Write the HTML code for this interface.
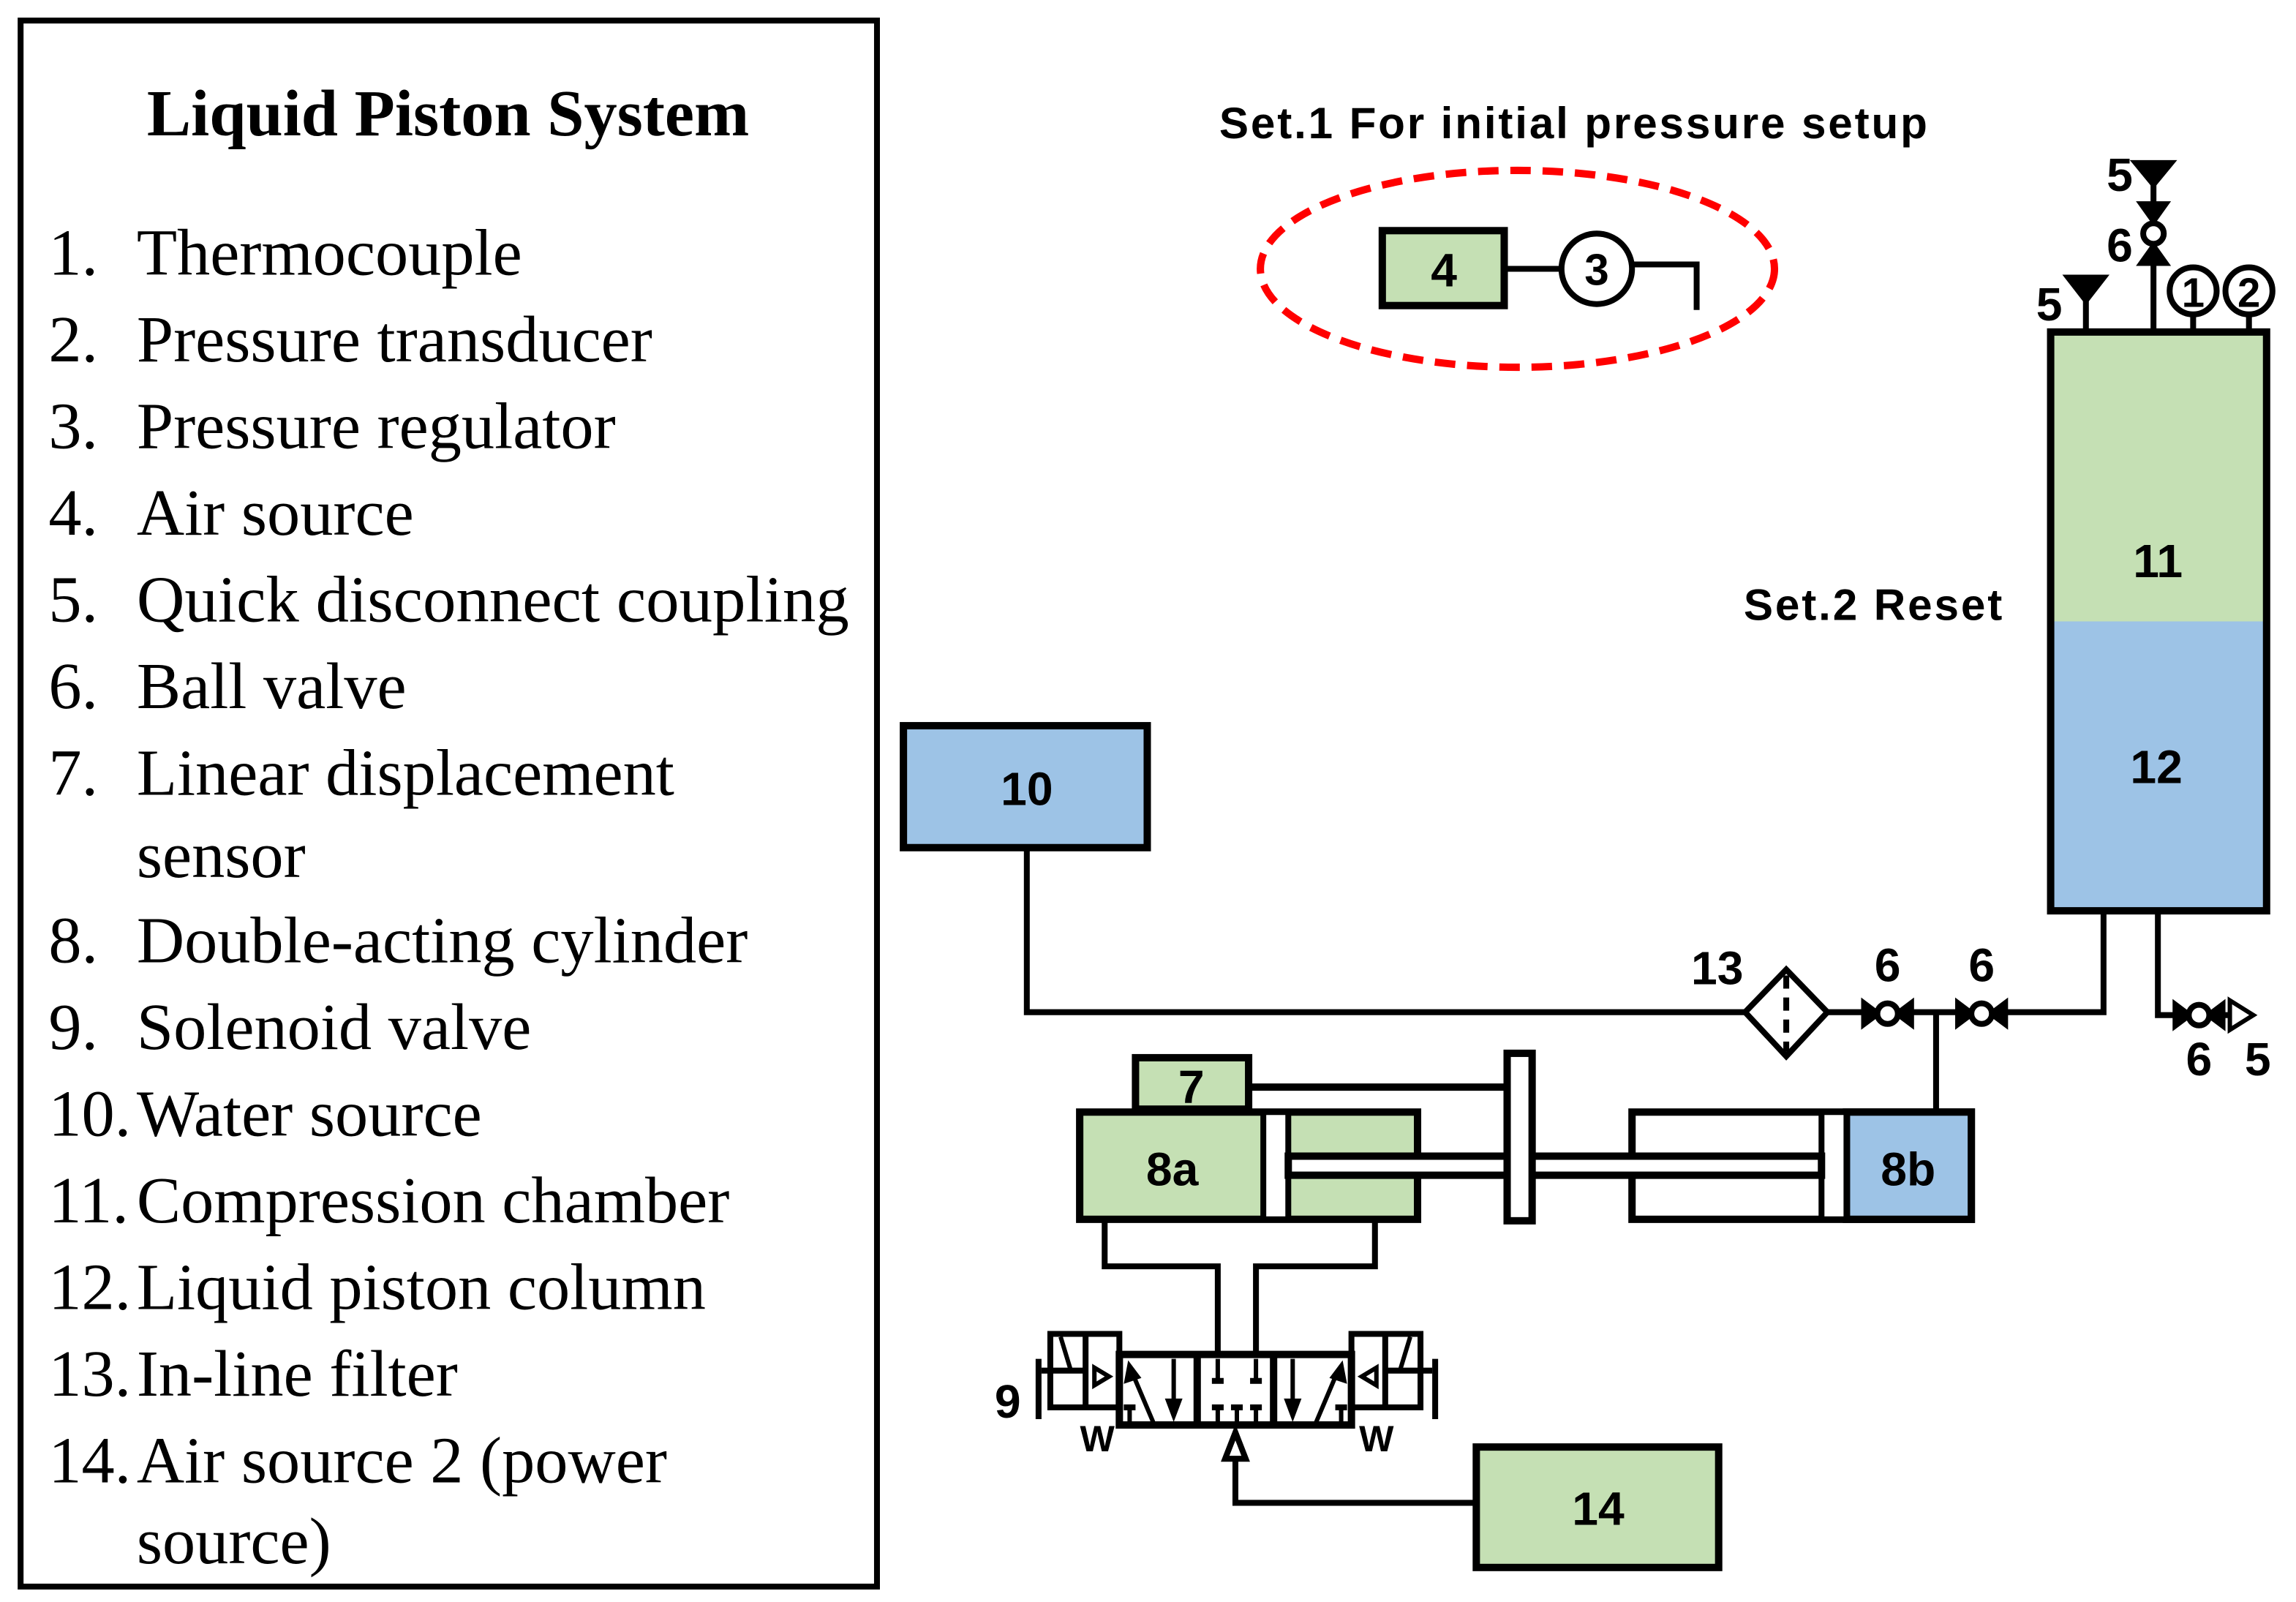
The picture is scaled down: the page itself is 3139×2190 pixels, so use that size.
<!DOCTYPE html>
<html><head><meta charset="utf-8"><style>
html,body{margin:0;padding:0;background:#fff;}
svg{display:block;}
.s{font-family:"Liberation Serif",serif;font-size:45px;fill:#000;}
.b{font-family:"Liberation Sans",sans-serif;font-weight:bold;fill:#000;}
</style></head><body>
<svg width="3139" height="2190" viewBox="0 0 1563 1090.5" xmlns="http://www.w3.org/2000/svg">
<rect x="0" y="0" width="1563" height="1091" fill="#fff"/>
<!-- legend -->
<rect x="14" y="14" width="583" height="1066" fill="none" stroke="#000" stroke-width="4"/>
<text x="305" y="92" text-anchor="middle" class="s" style="font-weight:bold;font-size:45px">Liquid Piston System</text>
<g class="s">
<text x="33" y="187">1.</text><text x="93" y="187">Thermocouple</text>
<text x="33" y="246">2.</text><text x="93" y="246">Pressure transducer</text>
<text x="33" y="305">3.</text><text x="93" y="305">Pressure regulator</text>
<text x="33" y="364">4.</text><text x="93" y="364">Air source</text>
<text x="33" y="423">5.</text><text x="93" y="423" textLength="485" lengthAdjust="spacingAndGlyphs">Quick disconnect coupling</text>
<text x="33" y="482">6.</text><text x="93" y="482">Ball valve</text>
<text x="33" y="541">7.</text><text x="93" y="541">Linear displacement</text>
<text x="93" y="597">sensor</text>
<text x="33" y="655">8.</text><text x="93" y="655">Double-acting cylinder</text>
<text x="33" y="714">9.</text><text x="93" y="714">Solenoid valve</text>
<text x="33" y="773">10.</text><text x="93" y="773">Water source</text>
<text x="33" y="832">11.</text><text x="93" y="832">Compression chamber</text>
<text x="33" y="891">12.</text><text x="93" y="891">Liquid piston column</text>
<text x="33" y="950">13.</text><text x="93" y="950">In-line filter</text>
<text x="33" y="1009">14.</text><text x="93" y="1009">Air source 2 (power</text>
<text x="93" y="1064">source)</text>
</g>
<!-- set 1 -->
<text x="830" y="94" class="b" font-size="30" textLength="482">Set.1 For initial pressure setup</text>
<ellipse cx="1033" cy="183" rx="175" ry="67" fill="none" stroke="#ff0000" stroke-width="5" stroke-dasharray="14 8"/>
<rect x="941" y="157" width="83" height="51" fill="#c5e0b4" stroke="#000" stroke-width="5"/>
<text x="983" y="195" text-anchor="middle" class="b" font-size="32">4</text>
<line x1="1024" y1="183" x2="1062" y2="183" stroke="#000" stroke-width="4"/>
<circle cx="1087" cy="183" r="24" fill="#fff" stroke="#000" stroke-width="4"/>
<text x="1087" y="194" text-anchor="middle" class="b" font-size="30">3</text>
<polyline points="1111,180 1155,180 1155,211" fill="none" stroke="#000" stroke-width="4"/>
<!-- set 2 -->
<text x="1187" y="422" class="b" font-size="30" textLength="176">Set.2 Reset</text>
<!-- tank -->
<rect x="1396" y="226" width="147" height="197" fill="#c5e0b4"/>
<rect x="1396" y="423" width="147" height="197" fill="#9dc3e6"/>
<rect x="1396" y="226" width="147" height="394" fill="none" stroke="#000" stroke-width="5"/>
<text x="1469" y="393" text-anchor="middle" class="b" font-size="32">11</text>
<text x="1468" y="533" text-anchor="middle" class="b" font-size="32">12</text>
<!-- tank top fittings -->
<g stroke="#000" stroke-width="4" fill="#000">
<line x1="1420" y1="226" x2="1420" y2="195"/>
<polygon points="1406,188 1434,188 1420,206" stroke-width="2"/>
<line x1="1466" y1="226" x2="1466" y2="110"/>
<polygon points="1452,110 1480,110 1466,127" stroke-width="2"/>
<polygon points="1456,138 1476,138 1466,152" stroke-width="2"/>
<polygon points="1456,180 1476,180 1466,166" stroke-width="2"/>
<circle cx="1466" cy="159" r="7" fill="#fff"/>
<line x1="1493" y1="226" x2="1493" y2="214"/>
<line x1="1531" y1="226" x2="1531" y2="214"/>
<circle cx="1493" cy="198" r="16" fill="#fff"/>
<circle cx="1531" cy="198" r="16" fill="#fff"/>
</g>
<text x="1493" y="209" text-anchor="middle" class="b" font-size="28">1</text>
<text x="1531" y="209" text-anchor="middle" class="b" font-size="28">2</text>
<text x="1443" y="130" text-anchor="middle" class="b" font-size="32">5</text>
<text x="1443" y="178" text-anchor="middle" class="b" font-size="32">6</text>
<text x="1395" y="218" text-anchor="middle" class="b" font-size="32">5</text>
<!-- box 10 -->
<rect x="615" y="494" width="166" height="83" fill="#9dc3e6" stroke="#000" stroke-width="5"/>
<text x="699" y="548" text-anchor="middle" class="b" font-size="32">10</text>
<!-- pipes -->
<g stroke="#000" stroke-width="4" fill="none">
<polyline points="699,577 699,689 1188,689"/>
<polyline points="1244,689 1432,689 1432,620"/>
<line x1="1318" y1="689" x2="1318" y2="756"/>
<polyline points="1469,620 1469,691 1520,691"/>
<polygon points="1216,660 1244,689 1216,719 1188,689" fill="#fff"/>
<line x1="1216" y1="664" x2="1216" y2="716" stroke-dasharray="9 6"/>
</g>
<!-- ball valves horizontal -->
<g stroke="#000" stroke-width="2" fill="#000">
<polygon points="1268,681 1268,699 1280,690"/><polygon points="1302,681 1302,699 1290,690"/>
<circle cx="1285" cy="690" r="7" fill="#fff" stroke-width="4"/>
<polygon points="1332,681 1332,699 1344,690"/><polygon points="1366,681 1366,699 1354,690"/>
<circle cx="1349" cy="690" r="7" fill="#fff" stroke-width="4"/>
<polygon points="1480,682 1480,700 1492,691"/><polygon points="1514,682 1514,700 1502,691"/>
<circle cx="1497" cy="691" r="7" fill="#fff" stroke-width="4"/>
<polygon points="1518,681 1518,701 1534,691" fill="#fff" stroke-width="3"/>
</g>
<text x="1169" y="670" text-anchor="middle" class="b" font-size="32">13</text>
<text x="1285" y="668" text-anchor="middle" class="b" font-size="32">6</text>
<text x="1349" y="668" text-anchor="middle" class="b" font-size="32">6</text>
<text x="1497" y="732" text-anchor="middle" class="b" font-size="32">6</text>
<text x="1537" y="732" text-anchor="middle" class="b" font-size="32">5</text>
<!-- cylinders -->
<rect x="773" y="720" width="77" height="35" fill="#c5e0b4" stroke="#000" stroke-width="5"/>
<text x="811" y="751" text-anchor="middle" class="b" font-size="32">7</text>
<line x1="850" y1="740" x2="1027" y2="740" stroke="#000" stroke-width="5"/>
<rect x="735" y="757" width="230" height="73" fill="#c5e0b4" stroke="#000" stroke-width="5"/>
<rect x="1111" y="757" width="231" height="73" fill="#fff" stroke="#000" stroke-width="5"/>
<rect x="1257" y="757" width="85" height="73" fill="#9dc3e6" stroke="#000" stroke-width="5"/>
<rect x="860" y="757" width="17" height="73" fill="#fff" stroke="#000" stroke-width="4"/>
<rect x="1240" y="757" width="17" height="73" fill="#fff" stroke="#000" stroke-width="4"/>
<rect x="877" y="787" width="363" height="13" fill="#fff" stroke="#000" stroke-width="5"/>
<rect x="1026" y="717" width="17" height="114" fill="#fff" stroke="#000" stroke-width="5"/>
<text x="798" y="807" text-anchor="middle" class="b" font-size="32">8a</text>
<text x="1299" y="807" text-anchor="middle" class="b" font-size="32">8b</text>
<!-- lines to valve -->
<g stroke="#000" stroke-width="4" fill="none">
<polyline points="752,830 752,862 829,862 829,923"/>
<polyline points="936,830 936,862 855,862 855,923"/>
<polyline points="1005,1023 841,1023 841,990"/>
</g>
<polygon points="841,975 834,993 848,993" fill="#fff" stroke="#000" stroke-width="4"/>
<!-- box 14 -->
<rect x="1005" y="985" width="165" height="82" fill="#c5e0b4" stroke="#000" stroke-width="5"/>
<text x="1088" y="1038" text-anchor="middle" class="b" font-size="32">14</text>
<!-- solenoid valve -->
<g stroke="#000" stroke-width="5" fill="none">
<rect x="762" y="922" width="158" height="48"/>
<line x1="815" y1="922" x2="815" y2="970"/>
<line x1="867" y1="922" x2="867" y2="970"/>
<rect x="715" y="908" width="47" height="50" stroke-width="4"/>
<line x1="739" y1="908" x2="739" y2="958" stroke-width="4"/>
<line x1="709" y1="933" x2="739" y2="933" stroke-width="4"/>
<line x1="707" y1="925" x2="707" y2="966" stroke-width="4"/>
<line x1="722" y1="910" x2="729" y2="933" stroke-width="3"/>
<rect x="920" y="908" width="47" height="50" stroke-width="4"/>
<line x1="943" y1="908" x2="943" y2="958" stroke-width="4"/>
<line x1="943" y1="933" x2="975" y2="933" stroke-width="4"/>
<line x1="977" y1="925" x2="977" y2="966" stroke-width="4"/>
<line x1="960" y1="910" x2="953" y2="933" stroke-width="3"/>
<line x1="785" y1="968" x2="771" y2="935" stroke-width="3"/>
<line x1="799" y1="925" x2="799" y2="955" stroke-width="3"/>
<line x1="769" y1="958" x2="769" y2="968" stroke-width="3"/>
<line x1="829" y1="925" x2="829" y2="940" stroke-width="3"/>
<line x1="855" y1="925" x2="855" y2="940" stroke-width="3"/>
<line x1="829" y1="958" x2="829" y2="968" stroke-width="3"/>
<line x1="842" y1="958" x2="842" y2="968" stroke-width="3"/>
<line x1="855" y1="958" x2="855" y2="968" stroke-width="3"/>
<line x1="880" y1="925" x2="880" y2="955" stroke-width="3"/>
<line x1="896" y1="968" x2="910" y2="935" stroke-width="3"/>
<line x1="913" y1="958" x2="913" y2="968" stroke-width="3"/>
</g>
<g fill="#000">
<polygon points="768,926 765,942 777,938"/>
<polygon points="793,952 805,952 799,968"/>
<polygon points="874,952 886,952 880,968"/>
<polygon points="914,926 917,942 905,938"/>
<rect x="765" y="956" width="8" height="4"/><rect x="909" y="956" width="8" height="4"/>
<rect x="825" y="938" width="8" height="4"/><rect x="851" y="938" width="8" height="4"/>
<rect x="825" y="956" width="8" height="4"/><rect x="838" y="956" width="8" height="4"/><rect x="851" y="956" width="8" height="4"/>
<polygon points="745,931 745,943 755,937" fill="#fff" stroke="#000" stroke-width="3"/>
<polygon points="937,931 937,943 927,937" fill="#fff" stroke="#000" stroke-width="3"/>
</g>
<text x="747" y="988" text-anchor="middle" class="b" font-size="25">W</text>
<text x="937" y="988" text-anchor="middle" class="b" font-size="25">W</text>
<text x="686" y="965" text-anchor="middle" class="b" font-size="32">9</text>
</svg>
</body></html>
